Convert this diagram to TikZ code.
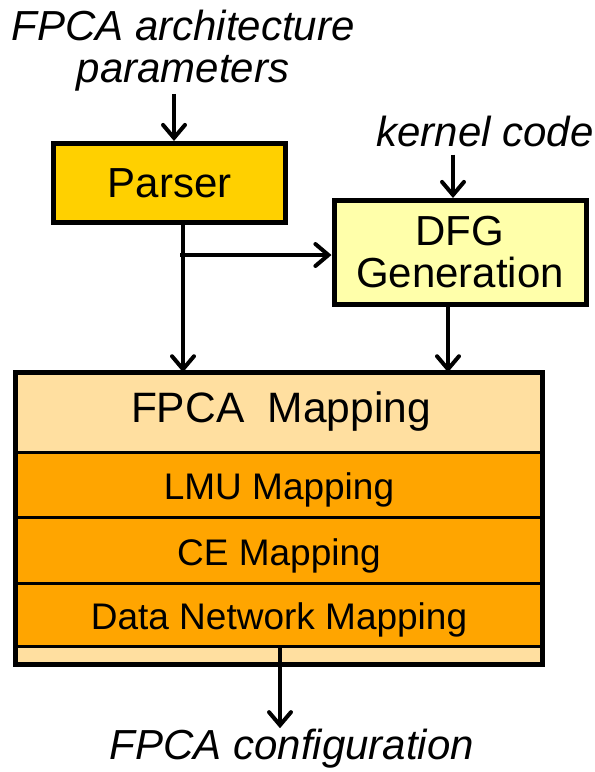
\documentclass[tikz,border=0pt]{standalone}
\usepackage{fontspec}
\setmainfont{Liberation Sans}
\usetikzlibrary{arrows.meta,calc}
\definecolor{parsergold}{HTML}{FFD000}
\definecolor{dfgyellow}{HTML}{FFFFAA}
\definecolor{maplight}{HTML}{FFDFA0}
\definecolor{maporange}{HTML}{FFA500}
\tikzset{
  lbl/.style={font=\fontsize{42}{42}\selectfont\itshape, align=center, inner sep=0pt},
  boxtxt/.style={font=\fontsize{42.5}{42}\selectfont, align=center},
  stage/.style={draw, line width=5pt, inner sep=0pt, font=\fontsize{42}{42}\selectfont, align=center},
  layer/.style={draw, line width=3pt, fill=maporange, inner sep=0pt, minimum width=527pt,
                text height=35pt, text depth=4.5pt, font=\fontsize{37}{40}\selectfont},
  arr/.style={line width=4pt, -{Straight Barb[length=13pt,width=22pt,line cap=round]}},
}
\begin{document}
\begin{tikzpicture}[x=1pt,y=1pt]
\useasboundingbox (0,0) rectangle (595,-772);

% inputs
\node[lbl] (arch) at (183,-51) {FPCA architecture\\parameters};
\node[lbl] (kern) at (485,-131) {kernel code};

% front-end stages
\node[stage, fill=parsergold, minimum width=232pt, minimum height=79pt] (parser) at (169.5,-183) {Parser};
\node[stage, fill=dfgyellow, minimum width=252pt, minimum height=104pt] (dfg) at (460,-252.5) {DFG\\Generation};

% mapping stack
\node[fill=maplight, minimum width=527pt, minimum height=292pt, inner sep=0pt] (map) at (279,-518.5) {};
\node[boxtxt] (maptitle) at (281,-412) {FPCA~~Mapping};
\node[layer, minimum height=65pt] (lmu) at (279,-484.5) {LMU Mapping};
\node[layer, minimum height=66pt] (ce) at (279,-550) {CE Mapping};
\node[layer, minimum height=63pt] (dnm) at (279,-614.5) {Data Network Mapping};
\draw[line width=5pt] (map.south west) rectangle (map.north east);

% output
\node[lbl] (cfg) at (292,-749) {FPCA configuration};

% connectors
\coordinate (pin) at ($(parser.north)+(4.5,0)$);
\draw[arr] ($(arch.south -| pin)+(0,-2)$) -- (pin);
\coordinate (din) at ($(dfg.north)+(-7,0)$);
\draw[arr] ($(kern.south -| din)+(0,-8)$) -- (din);

\coordinate (pout) at ($(parser.south)+(13.5,0)$);
\draw[arr] (pout) -- (pout |- map.north);
\coordinate (split) at ($(pout)+(-3,-30)$);
\draw[arr] (split) -- (split -| dfg.west);
\coordinate (dout) at ($(dfg.south)+(-12,0)$);
\draw[arr] (dout) -- (dout |- map.north);

\coordinate (mout) at ($(dnm.south)+(1,0)$);
\draw[arr] (mout) -- ($(cfg.north -| mout)+(0,1)$);
\end{tikzpicture}
\end{document}
